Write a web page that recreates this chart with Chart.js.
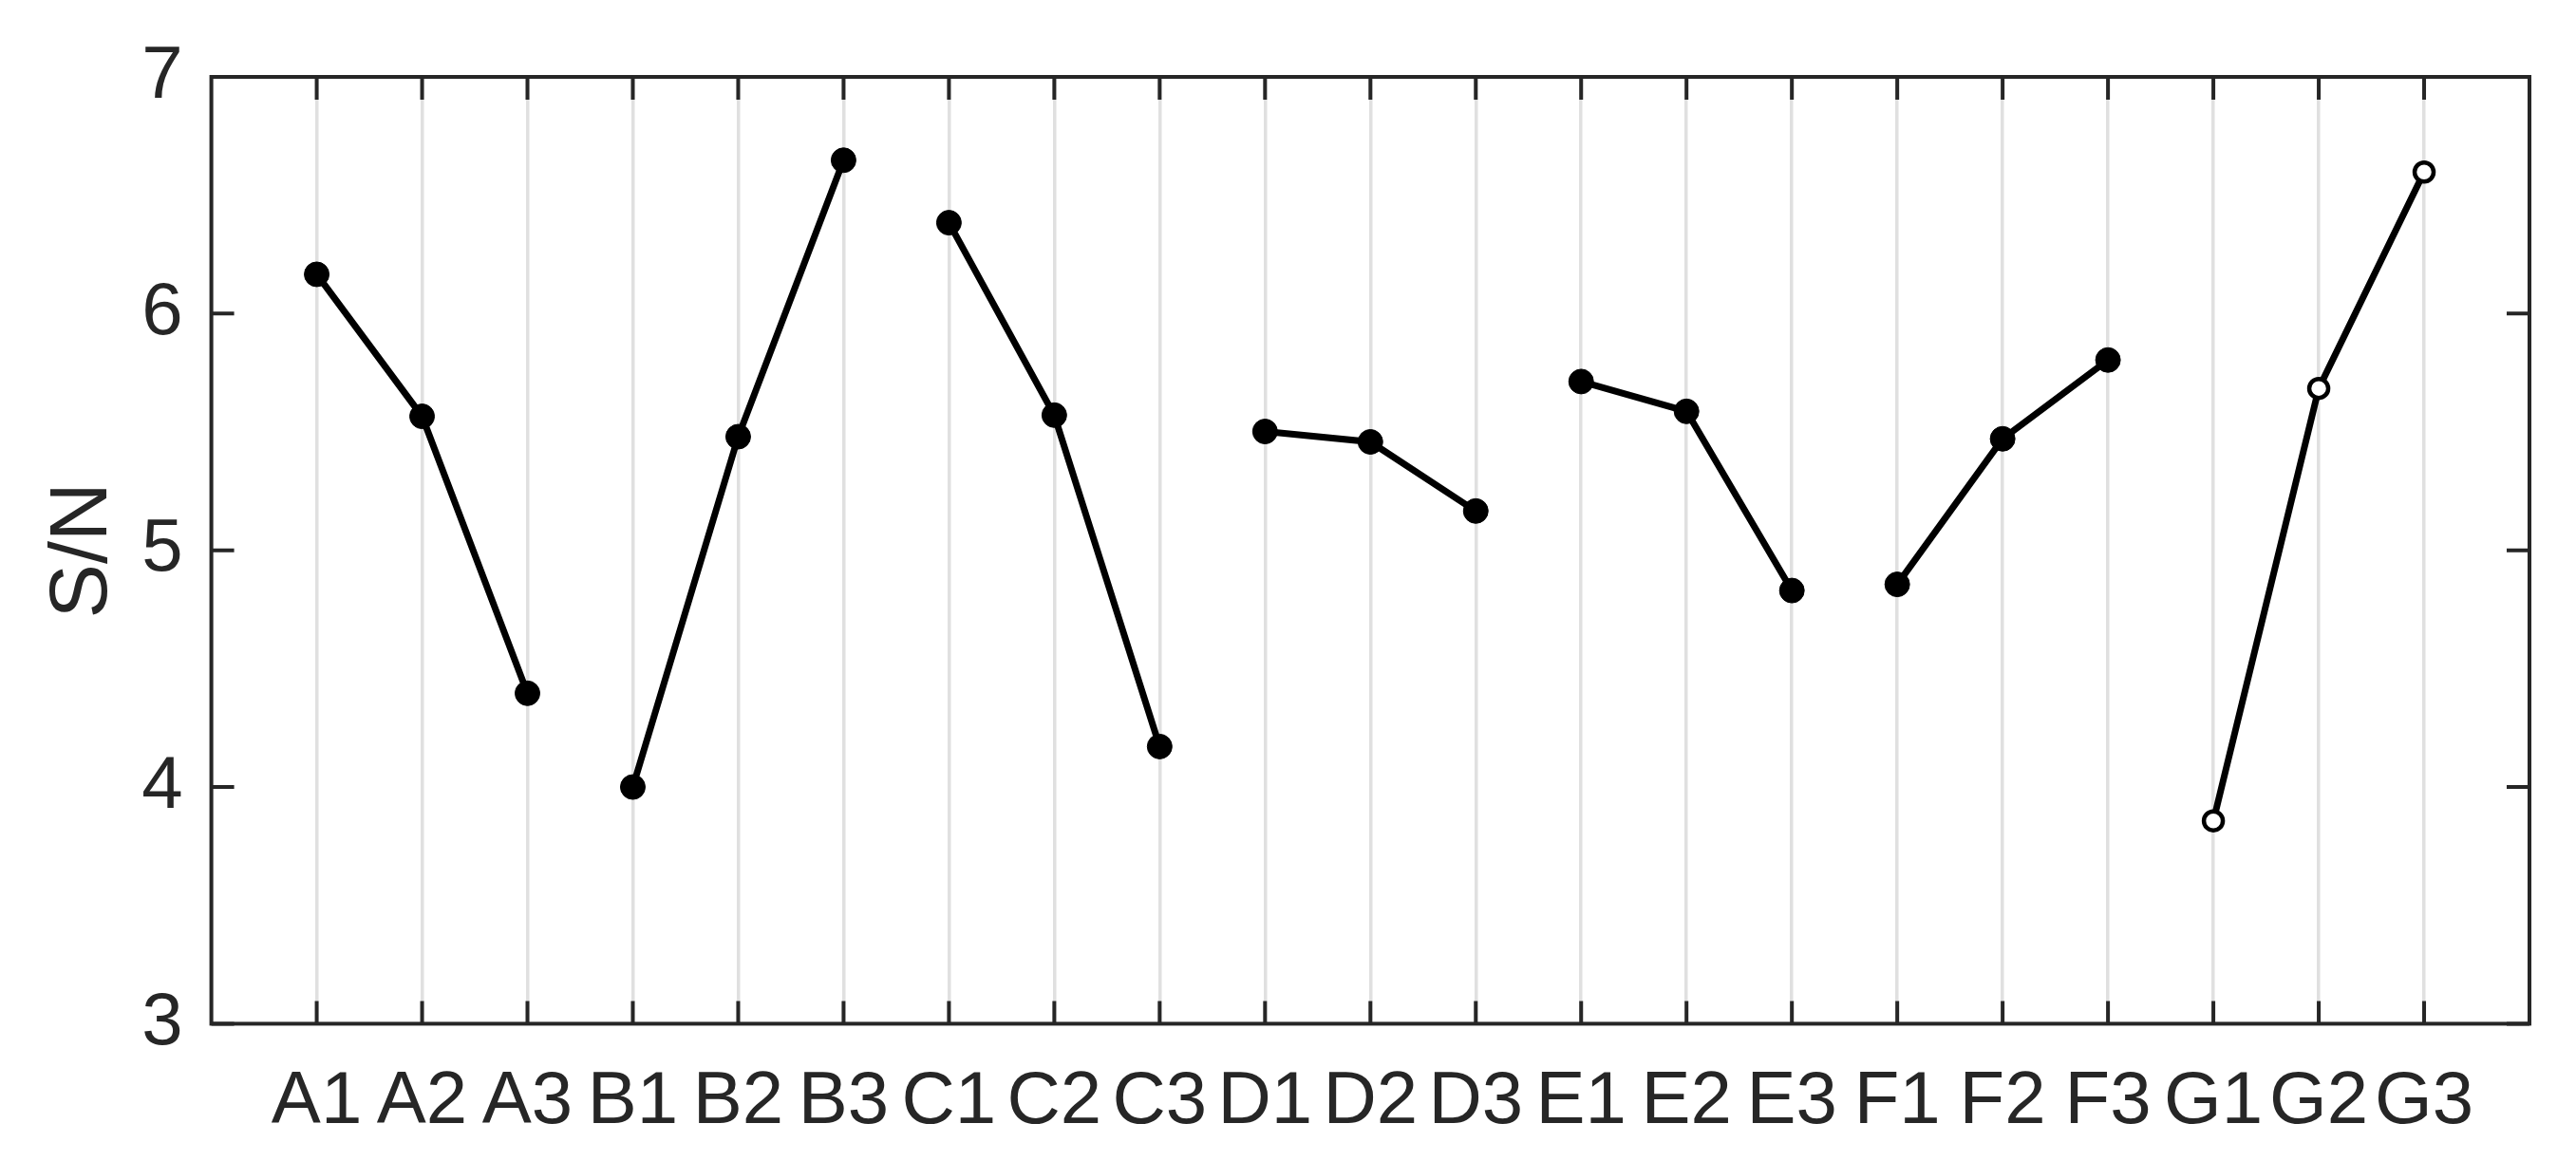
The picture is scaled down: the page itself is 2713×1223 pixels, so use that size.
<!DOCTYPE html>
<html>
<head>
<meta charset="utf-8">
<script src="https://cdn.jsdelivr.net/npm/chart.js@4.4.1/dist/chart.umd.min.js"></script>
<style>
  html, body { margin: 0; padding: 0; background: #fff; }
  #wrap { width: 2713px; height: 1223px; }
</style>
</head>
<body>
<div id="wrap"><canvas id="snChart"></canvas></div>
<script>
// factor levels along the x axis
const levels = ['A1', 'A2', 'A3', 'B1', 'B2', 'B3', 'C1', 'C2', 'C3', 'D1', 'D2', 'D3',
                'E1', 'E2', 'E3', 'F1', 'F2', 'F3', 'G1', 'G2', 'G3'];
// mean S/N for each level
const snValues = [6.166, 5.566, 4.396, 4.00, 5.48, 6.648, 6.384, 5.571, 4.171, 5.502, 5.458, 5.166,
                  5.713, 5.587, 4.83, 4.856, 5.471, 5.804, 3.857, 5.684, 6.598];
const factors = ['A', 'B', 'C', 'D', 'E', 'F', 'G'];
const openFactors = ['G'];
const yTicks = [3, 4, 5, 6, 7];

const axisColor = '#262626';
const tickLen = 24;
const fontFamily = "'Liberation Sans', Arial, Helvetica, sans-serif";

// one line per factor so the groups are not joined
const datasets = factors.map(f => {
  const pts = [];
  levels.forEach((lv, i) => {
    if (lv[0] === f) pts.push({ x: i + 1, y: snValues[i] });
  });
  const open = openFactors.includes(f);
  return {
    label: f,
    data: pts,
    borderColor: '#000',
    borderWidth: 7,
    pointRadius: open ? 10 : 13,
    pointBorderWidth: open ? 4.5 : 1,
    pointBackgroundColor: open ? '#fff' : '#000',
    pointBorderColor: '#000',
    tension: 0
  };
});

// MATLAB style box with inward ticks
const frameTicks = {
  id: 'frameTicks',
  afterDatasetsDraw(chart) {
    const { ctx, chartArea: a, scales: { x, y } } = chart;
    ctx.save();
    ctx.strokeStyle = axisColor;
    ctx.lineWidth = 4;
    ctx.beginPath();
    levels.forEach((lv, i) => {
      const px = x.getPixelForValue(i + 1);
      ctx.moveTo(px, a.bottom); ctx.lineTo(px, a.bottom - tickLen);
      ctx.moveTo(px, a.top); ctx.lineTo(px, a.top + tickLen);
    });
    yTicks.forEach(v => {
      const py = y.getPixelForValue(v);
      ctx.moveTo(a.left, py); ctx.lineTo(a.left + tickLen, py);
      ctx.moveTo(a.right, py); ctx.lineTo(a.right - tickLen, py);
    });
    ctx.stroke();
    ctx.strokeRect(a.left, a.top, a.right - a.left, a.bottom - a.top);
    ctx.restore();
  }
};

const ctx = document.getElementById('snChart');
new Chart(ctx, {
  type: 'line',
  data: { datasets: datasets },
  options: {
    responsive: true,
    maintainAspectRatio: false,
    animation: false,
    layout: { padding: { left: 0, right: 49, top: 81, bottom: -21 } },
    plugins: {
      legend: { display: false },
      tooltip: { enabled: false }
    },
    scales: {
      x: {
        type: 'linear',
        min: 0,
        max: levels.length + 1,
        grid: { color: '#e0e0e0', lineWidth: 3.5, drawTicks: false },
        border: { display: false },
        ticks: {
          stepSize: 1,
          autoSkip: false,
          maxRotation: 0,
          padding: 36,
          color: axisColor,
          font: { family: fontFamily, size: 78 },
          callback: v => levels[v - 1] || ''
        }
      },
      y: {
        min: 3,
        max: 7,
        grid: { display: false, drawTicks: false },
        border: { display: false },
        ticks: {
          stepSize: 1,
          padding: 30,
          color: axisColor,
          font: { family: fontFamily, size: 78 }
        },
        title: {
          display: true,
          text: 'S/N',
          color: axisColor,
          padding: { top: 37, bottom: -21 },
          font: { family: fontFamily, size: 86 }
        }
      }
    }
  },
  plugins: [frameTicks]
});
</script>
</body>
</html>
